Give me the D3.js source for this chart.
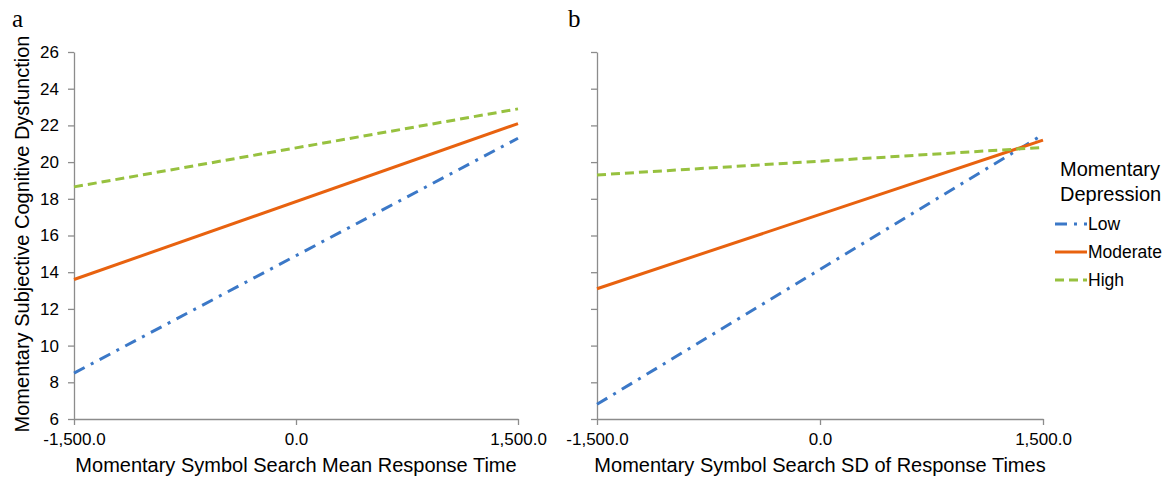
<!DOCTYPE html>
<html>
<head>
<meta charset="utf-8">
<script src="https://d3js.org/d3.v7.min.js"></script>
<style>
  body { margin: 0; background: #fff; }
  text { font-family: "Liberation Sans", Arial, sans-serif; fill: #000; }
  .axis path, .axis line { stroke: #8c8c8c; stroke-width: 1.3; }
</style>
</head>
<body>
<svg id="chart" width="1176" height="481"></svg>
<script>
// data
const xEnds = [-1500, 1500];
const groups = ["Low", "Moderate", "High"];
const panelA = { Low: [8.5, 21.3], Moderate: [13.6, 22.1], High: [18.65, 22.9] };
const panelB = { Low: [6.8, 21.5], Moderate: [13.1, 21.2], High: [19.3, 20.8] };
const yTicks = [6, 8, 10, 12, 14, 16, 18, 20, 22, 24, 26];
const xTicks = [-1500, 0, 1500];
const xTitles = ["Momentary Symbol Search Mean Response Time", "Momentary Symbol Search SD of Response Times"];
const yTitle = "Momentary Subjective Cognitive Dysfunction";

const colors = { Low: "#3b78c7", Moderate: "#e8620f", High: "#97c13f" };
const dashes = { Low: "12,7,3,7", Moderate: null, High: "9,5" };

const svg = d3.select("#chart");
const y = d3.scaleLinear().domain([6, 26]).range([419, 52]);
const fmt = d => d3.format(",.1f")(d).replace("\u2212", "-");

const panels = [
  { data: panelA, x0: 74, x1: 518, label: "a", lx: 12, labels: true },
  { data: panelB, x0: 597, x1: 1043, label: "b", lx: 568, labels: false }
];

panels.forEach((p, i) => {
  const x = d3.scaleLinear().domain([-1500, 1500]).range([p.x0, p.x1]);
  const g = svg.append("g");

  const ya = g.append("g").attr("class", "axis")
    .attr("transform", `translate(${p.x0},0)`)
    .call(d3.axisLeft(y).tickValues(yTicks).tickSize(6).tickSizeOuter(0)
      .tickFormat(p.labels ? d3.format("d") : ""));
  ya.selectAll("text").attr("font-size", 17).attr("dx", -6);

  const xa = g.append("g").attr("class", "axis")
    .attr("transform", `translate(0,419)`)
    .call(d3.axisBottom(x).tickValues(xTicks).tickSize(6).tickSizeOuter(0).tickFormat(fmt));
  xa.selectAll("text").attr("font-size", 17).attr("y", 0).attr("dy", 0)
    .attr("transform", "translate(0,26)");

  g.append("text").attr("x", (p.x0 + p.x1) / 2).attr("y", 472)
    .attr("text-anchor", "middle").attr("font-size", 20).text(xTitles[i]);

  g.append("text").attr("x", p.lx).attr("y", 27)
    .style("font-family", "'Liberation Serif', 'Times New Roman', serif")
    .attr("font-size", 25).text(p.label);

  const line = d3.line().x(d => x(d[0])).y(d => y(d[1]));
  groups.forEach(k => {
    g.append("path")
      .datum(xEnds.map((xv, j) => [xv, p.data[k][j]]))
      .attr("d", line)
      .attr("fill", "none")
      .attr("stroke", colors[k])
      .attr("stroke-width", 3)
      .attr("stroke-dasharray", dashes[k]);
  });
});

svg.append("text")
  .attr("transform", "translate(29,234) rotate(-90)")
  .attr("text-anchor", "middle").attr("font-size", 20).text(yTitle);

// legend
const leg = svg.append("g");
leg.append("text").attr("x", 1060).attr("y", 176).attr("font-size", 20).text("Momentary");
leg.append("text").attr("x", 1060).attr("y", 201).attr("font-size", 20).text("Depression");
groups.forEach((k, i) => {
  const yy = 224 + i * 28;
  leg.append("line").attr("x1", 1055).attr("x2", 1087).attr("y1", yy).attr("y2", yy)
    .attr("stroke", colors[k]).attr("stroke-width", 3)
    .attr("stroke-dasharray", dashes[k]);
  leg.append("text").attr("x", 1088).attr("y", yy + 6).attr("font-size", 17.5).text(k);
});
</script>
</body>
</html>
